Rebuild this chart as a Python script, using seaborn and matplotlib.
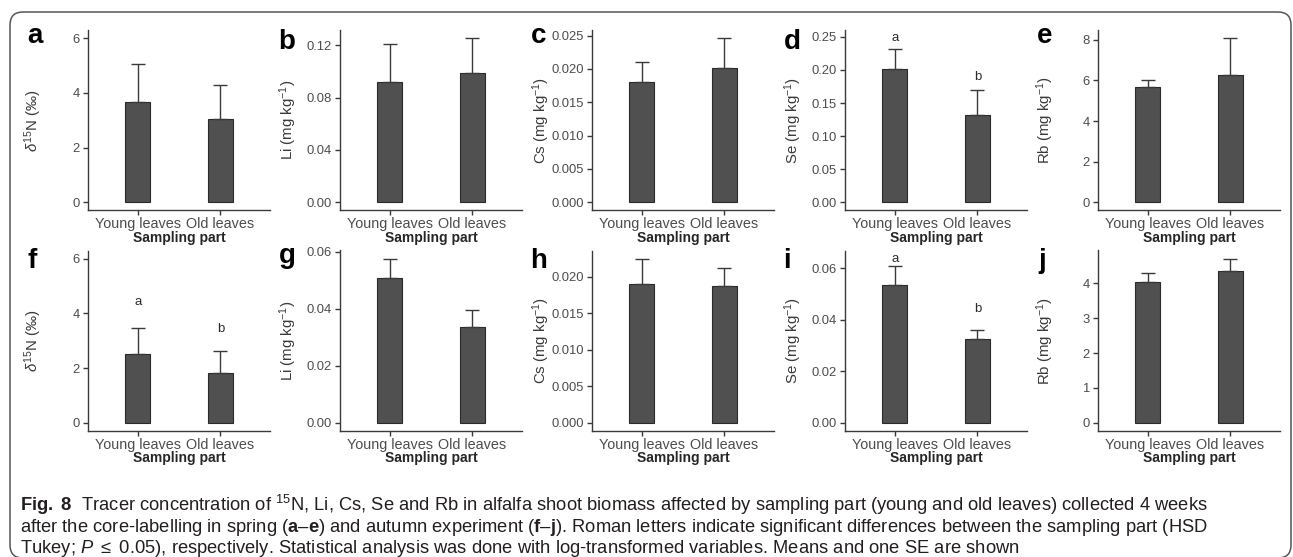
import numpy as np
import pandas as pd
import matplotlib
matplotlib.use("Agg")
import matplotlib.pyplot as plt
import seaborn as sns
from matplotlib.patches import FancyBboxPatch
from matplotlib.transforms import IdentityTransform
from matplotlib.textpath import TextPath
from matplotlib.font_manager import FontProperties

# ---------------------------------------------------------------- data
parts = ["Young leaves", "Old leaves"]

# spring experiment (a-e)
n15_spring_mean = [3.66, 3.06]
n15_spring_se = [1.39, 1.22]
li_spring_mean = [0.0921, 0.0989]
li_spring_se = [0.0289, 0.0264]
cs_spring_mean = [0.0181, 0.0202]
cs_spring_se = [0.0030, 0.0044]
se_spring_mean = [0.202, 0.132]
se_spring_se = [0.030, 0.038]
rb_spring_mean = [5.69, 6.28]
rb_spring_se = [0.31, 1.80]

# autumn experiment (f-j)
n15_autumn_mean = [2.50, 1.83]
n15_autumn_se = [0.95, 0.79]
li_autumn_mean = [0.0508, 0.0335]
li_autumn_se = [0.0068, 0.0062]
cs_autumn_mean = [0.0190, 0.0188]
cs_autumn_se = [0.0035, 0.0024]
se_autumn_mean = [0.0536, 0.0327]
se_autumn_se = [0.0072, 0.0033]
rb_autumn_mean = [4.03, 4.36]
rb_autumn_se = [0.28, 0.35]

# Tukey HSD group letters and their heights
se_spring_letters = ["a", "b"]
se_spring_letter_y = [0.248, 0.189]
n15_autumn_letters = ["a", "b"]
n15_autumn_letter_y = [4.43, 3.44]
se_autumn_letters = ["a", "b"]
se_autumn_letter_y = [0.0637, 0.0443]

ylabels = [r"$\delta^{15}$N (‰)", r"Li (mg kg$^{-1}$)", r"Cs (mg kg$^{-1}$)",
           r"Se (mg kg$^{-1}$)", r"Rb (mg kg$^{-1}$)"]
panel_letters = list("abcdefghij")
xlabel = "Sampling part"

caption_lines = [
    r"$\mathbf{Fig.\ 8}$  Tracer concentration of $^{15}$N, Li, Cs, Se and Rb in alfalfa shoot biomass "
    r"affected by sampling part (young and old leaves) collected 4 weeks",
    r"after the core-labelling in spring ($\mathbf{a}$–$\mathbf{e}$) and autumn experiment "
    r"($\mathbf{f}$–$\mathbf{j}$). Roman letters indicate significant differences between the sampling part (HSD",
    r"Tukey; $P\ \leq\ 0.05$), respectively. Statistical analysis was done with log-transformed variables. "
    r"Means and one SE are shown",
]

panels = [
    # means, ses, ylabel idx, ticks, tick format, fixed upper limit, letters, letter heights
    (n15_spring_mean, n15_spring_se, 0, [0, 2, 4, 6], "{:.0f}", 6.0, None, None),
    (li_spring_mean, li_spring_se, 1, [0, 0.04, 0.08, 0.12], "{:.2f}", None, None, None),
    (cs_spring_mean, cs_spring_se, 2, [0, 0.005, 0.01, 0.015, 0.02, 0.025], "{:.3f}", None, None, None),
    (se_spring_mean, se_spring_se, 3, [0, 0.05, 0.10, 0.15, 0.20, 0.25], "{:.2f}", None,
     se_spring_letters, se_spring_letter_y),
    (rb_spring_mean, rb_spring_se, 4, [0, 2, 4, 6, 8], "{:.0f}", None, None, None),
    (n15_autumn_mean, n15_autumn_se, 0, [0, 2, 4, 6], "{:.0f}", 6.0,
     n15_autumn_letters, n15_autumn_letter_y),
    (li_autumn_mean, li_autumn_se, 1, [0, 0.02, 0.04, 0.06], "{:.2f}", None, None, None),
    (cs_autumn_mean, cs_autumn_se, 2, [0, 0.005, 0.01, 0.015, 0.02], "{:.3f}", None, None, None),
    (se_autumn_mean, se_autumn_se, 3, [0, 0.02, 0.04, 0.06], "{:.2f}", None,
     se_autumn_letters, se_autumn_letter_y),
    (rb_autumn_mean, rb_autumn_se, 4, [0, 1, 2, 3, 4], "{:.0f}", None, None, None),
]

# ---------------------------------------------------------------- style
sns.set_theme(style="ticks")
plt.rcParams["font.family"] = ["Liberation Sans", "DejaVu Sans"]
plt.rcParams["mathtext.fontset"] = "custom"
plt.rcParams["mathtext.rm"] = "Liberation Sans"
plt.rcParams["mathtext.it"] = "Liberation Sans:italic"
plt.rcParams["mathtext.bf"] = "Liberation Sans:bold"
plt.rcParams["mathtext.fallback"] = "stixsans"

BAR = "#505050"
EDGE = "#2a2a2a"
AXIS = "#3a3a3a"
TICKTXT = "#4d4d4d"
LABEL = "#3a3a3a"

W, H = 1293, 557
DPI = 100
fig = plt.figure(figsize=(W / DPI, H / DPI), dpi=DPI)

ax_lefts = [88, 340, 592, 845, 1098]
ax_width = 182
row_tops = [30, 250.5]
ax_height = 180.5


def px_rect(left, top, width, height):
    return [left / W, 1 - (top + height) / H, width / W, height / H]


def draw_panel(ax, means, ses, ylab, ticks, fmt, fixed_max, letters, letter_y):
    df = pd.DataFrame({"part": parts, "value": means})
    sns.barplot(data=df, x="part", y="value", ax=ax, color=BAR, saturation=1,
                width=0.3, edgecolor=EDGE, linewidth=0.8, errorbar=None, zorder=2)
    ax.errorbar(x=[0, 1], y=means, yerr=[np.zeros(len(ses)), ses], fmt="none",
                ecolor=AXIS, elinewidth=1.0, capsize=5, capthick=1.0, zorder=3)
    tops = list(np.array(means) + np.array(ses))
    if letters is not None:
        for i, (lt, ly) in enumerate(zip(letters, letter_y)):
            ax.text(i, ly, lt, ha="center", va="center", fontsize=9.5, color="#2b2b2b")
        tops += list(letter_y)
    upper = fixed_max if fixed_max is not None else max(tops)
    ax.set_ylim(-0.05 * upper, 1.05 * upper)
    ax.set_xlim(-0.6, 1.6)
    ax.set_yticks(ticks)
    ax.set_yticklabels([fmt.format(t) for t in ticks])
    ax.set_xlabel(xlabel, fontsize=10, fontweight="bold", color="#262626")
    ax.xaxis.set_label_coords(0.5, -0.15)
    ax.xaxis.label.set_va("center")
    ax.set_ylabel(ylabels[ylab], fontsize=10.8, color=LABEL)
    ax.yaxis.label.set_va("center")
    ax.tick_params(axis="both", length=3.8, width=1.0, color=AXIS, labelcolor=TICKTXT)
    ax.tick_params(axis="y", labelsize=9.4, pad=2.2)
    ax.tick_params(axis="x", labelsize=10.4, pad=1.0)
    for side in ["left", "bottom"]:
        ax.spines[side].set_color(AXIS)
        ax.spines[side].set_linewidth(1.0)
    sns.despine(ax=ax)
    ax.set_facecolor("white")


ylabel_offsets = [-0.302, -0.286, -0.28, -0.286, -0.291]

for k, spec in enumerate(panels):
    row, col = divmod(k, 5)
    ax = fig.add_axes(px_rect(ax_lefts[col], row_tops[row], ax_width, ax_height))
    draw_panel(ax, *spec)
    ax.yaxis.set_label_coords(ylabel_offsets[col], 0.5)

    # panel letter, aligned by the top of its ink
    fp = FontProperties(family="Liberation Sans", weight="bold", size=20)
    ext = TextPath((0, 0), panel_letters[k], prop=fp).get_extents()
    ink_top_px = ext.y1 * DPI / 72
    ink_left_px = ext.x0 * DPI / 72
    top_px = 28.5 if row == 0 else 248.0
    fig.text((ax_lefts[col] - 60 - ink_left_px) / W, 1 - (top_px + ink_top_px) / H,
             panel_letters[k], fontproperties=fp, color="black", ha="left", va="baseline")

# ---------------------------------------------------------------- caption
renderer = fig.canvas.get_renderer()
cap_size = 12.0
probe = fig.text(0, 0, caption_lines[1], fontsize=cap_size, family="Liberation Sans")
width = probe.get_window_extent(renderer).width
probe.remove()
cap_size = min(cap_size * 1255 / width, 13.2)

baselines = [511, 532, 553]
for line, yb in zip(caption_lines, baselines):
    fig.text(20 / W, 1 - yb / H, line, fontsize=cap_size, family="Liberation Sans",
             color="#231f20", ha="left", va="baseline")

# rounded frame around the figure
frame = FancyBboxPatch((10, -1), 1281, H - 12 + 1, boxstyle="round,pad=0,rounding_size=13",
                       transform=IdentityTransform(), fill=False, edgecolor="#555555",
                       linewidth=1.1, zorder=10)
fig.patches.append(frame)

fig.savefig("out.png", dpi=DPI, facecolor="white")
